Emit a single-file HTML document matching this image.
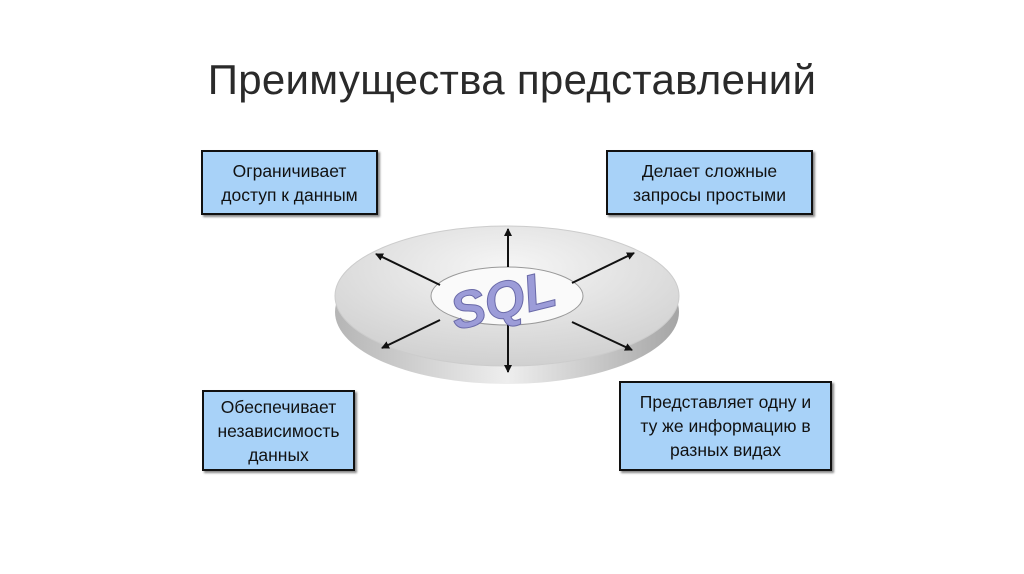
<!DOCTYPE html>
<html><head><meta charset="utf-8"><style>
body{margin:0;width:1024px;height:574px;background:#fff;position:relative;overflow:hidden;font-family:"Liberation Sans","Noto Sans CJK SC",sans-serif}
.t{position:absolute;left:0;width:1024px;top:56px;text-align:center;font-size:42px;color:#2a2a2a;letter-spacing:0.3px}
.b{position:absolute;box-sizing:border-box;background:#a8d2f8;border:2px solid #111;box-shadow:2px 2px 2px #888;display:flex;align-items:center;justify-content:center;text-align:center;font-size:17.5px;line-height:24px;color:#111}
</style></head><body>
<div class="t">Преимущества представлений</div>
<svg width="1024" height="574" style="position:absolute;left:0;top:0">
<defs>
<linearGradient id="side" x1="0" x2="1"><stop offset="0" stop-color="#b5b5b5"/><stop offset=".5" stop-color="#eeeeee"/><stop offset="1" stop-color="#a5a5a5"/></linearGradient>
<radialGradient id="top" cx=".5" cy=".3" r=".7"><stop offset="0" stop-color="#f6f6f6"/><stop offset="1" stop-color="#d0d0d0"/></radialGradient>
<marker id="a" markerWidth="8" markerHeight="8" refX="7" refY="4" orient="auto" markerUnits="userSpaceOnUse"><path d="M0,0 L8,4 L0,8 z" fill="#111"/></marker>
</defs>
<ellipse cx="507" cy="312" rx="172" ry="72" fill="url(#side)"/>
<ellipse cx="507" cy="296" rx="172" ry="70" fill="url(#top)" stroke="#ccc"/>
<ellipse cx="507" cy="296" rx="76" ry="29" fill="#fafafa" stroke="#999"/>
<g stroke="#111" stroke-width="2" marker-end="url(#a)">
<line x1="508" y1="267" x2="508" y2="229"/>
<line x1="508" y1="325" x2="508" y2="372"/>
<line x1="440" y1="285" x2="376" y2="254"/>
<line x1="572" y1="283" x2="634" y2="253"/>
<line x1="440" y1="320" x2="382" y2="348"/>
<line x1="572" y1="322" x2="632" y2="350"/>
</g>
<text x="503" y="318" transform="rotate(-14 503 300)" text-anchor="middle" font-family="Liberation Sans" font-weight="bold" font-style="italic" font-size="52" fill="#9c9cd8" stroke="#6a6aa8" stroke-width="1">SQL</text>
</svg>
<div class="b" style="left:201px;top:150px;width:177px;height:65px">Ограничивает<br>доступ к данным</div>
<div class="b" style="left:606px;top:150px;width:207px;height:65px">Делает сложные<br>запросы простыми</div>
<div class="b" style="left:202px;top:390px;width:153px;height:81px">Обеспечивает<br>независимость<br>данных</div>
<div class="b" style="left:619px;top:381px;width:213px;height:90px">Представляет одну и<br>ту же информацию в<br>разных видах</div>
</body></html>
